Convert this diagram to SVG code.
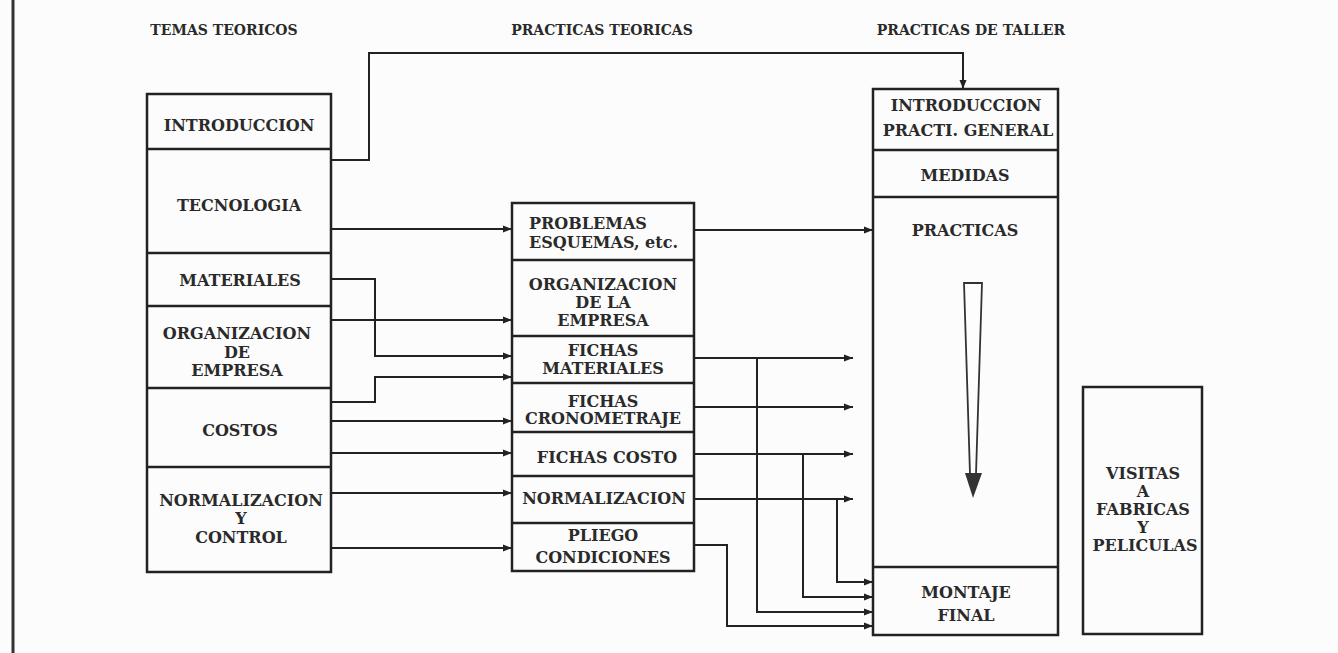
<svg xmlns="http://www.w3.org/2000/svg" width="1338" height="653" viewBox="0 0 1338 653">
<defs>
<marker id="ah" markerUnits="userSpaceOnUse" markerWidth="10" markerHeight="8" refX="9" refY="4" orient="auto">
<path d="M0,0.5 L9,4 L0,7.5 z" fill="#222"/>
</marker>
<style>
.bx{fill:none;stroke:#222;stroke-width:2.5}
.dv{stroke:#222;stroke-width:2.5}
.cn{fill:none;stroke:#222;stroke-width:2;marker-end:url(#ah)}
text{font-family:"DejaVu Serif","Liberation Serif",serif;font-weight:bold;fill:#2a2a2a;text-anchor:middle;font-size:16px}
.hd{font-size:14px}
.st{text-anchor:start}
</style>
</defs>
<rect width="1338" height="653" fill="#fcfcfc"/>
<line x1="13" y1="0" x2="13" y2="653" stroke="#333" stroke-width="3"/>

<g id="headers">
<text class="hd" x="224" y="35">TEMAS TEORICOS</text>
<text class="hd" x="602" y="35">PRACTICAS TEORICAS</text>
<text class="hd" x="971" y="35">PRACTICAS DE TALLER</text>
</g>

<g id="temas-teoricos">
<rect class="bx" x="147" y="94" width="184" height="478"/>
<line class="dv" x1="147" y1="149" x2="331" y2="149"/>
<line class="dv" x1="147" y1="253" x2="331" y2="253"/>
<line class="dv" x1="147" y1="306" x2="331" y2="306"/>
<line class="dv" x1="147" y1="388" x2="331" y2="388"/>
<line class="dv" x1="147" y1="467" x2="331" y2="467"/>
</g>
<g id="t-introduccion"><text x="239" y="131">INTRODUCCION</text></g>
<g id="t-tecnologia"><text x="239" y="211">TECNOLOGIA</text></g>
<g id="t-materiales"><text x="240" y="286">MATERIALES</text></g>
<g id="t-organizacion"><text x="237" y="339">ORGANIZACION</text><text x="237" y="358">DE</text><text x="237" y="376">EMPRESA</text></g>
<g id="t-costos"><text x="240" y="436">COSTOS</text></g>
<g id="t-normalizacion"><text x="241" y="506">NORMALIZACION</text><text x="241" y="524">Y</text><text x="241" y="543">CONTROL</text></g>

<g id="practicas-teoricas">
<rect class="bx" x="512" y="203" width="182" height="368"/>
<line class="dv" x1="512" y1="260" x2="694" y2="260"/>
<line class="dv" x1="512" y1="336" x2="694" y2="336"/>
<line class="dv" x1="512" y1="383" x2="694" y2="383"/>
<line class="dv" x1="512" y1="432" x2="694" y2="432"/>
<line class="dv" x1="512" y1="476" x2="694" y2="476"/>
<line class="dv" x1="512" y1="523" x2="694" y2="523"/>
</g>
<g id="p-problemas"><text class="st" x="529" y="229">PROBLEMAS</text><text class="st" x="529" y="248">ESQUEMAS, etc.</text></g>
<g id="p-organizacion"><text x="603" y="290">ORGANIZACION</text><text x="603" y="308">DE LA</text><text x="603" y="326">EMPRESA</text></g>
<g id="p-fichas-materiales"><text x="603" y="356">FICHAS</text><text x="603" y="374">MATERIALES</text></g>
<g id="p-fichas-crono"><text x="603" y="407">FICHAS</text><text x="603" y="424">CRONOMETRAJE</text></g>
<g id="p-fichas-costo"><text x="607" y="463">FICHAS COSTO</text></g>
<g id="p-normalizacion"><text x="604" y="504">NORMALIZACION</text></g>
<g id="p-pliego"><text x="603" y="541">PLIEGO</text><text x="603" y="563">CONDICIONES</text></g>

<g id="practicas-taller">
<rect class="bx" x="873" y="89" width="185" height="546"/>
<line class="dv" x1="873" y1="150" x2="1058" y2="150"/>
<line class="dv" x1="873" y1="197" x2="1058" y2="197"/>
<line class="dv" x1="873" y1="567" x2="1058" y2="567"/>
</g>
<g id="w-introduccion"><text x="966" y="111">INTRODUCCION</text><text x="968" y="136">PRACTI. GENERAL</text></g>
<g id="w-medidas"><text x="965" y="181">MEDIDAS</text></g>
<g id="w-practicas"><text x="965" y="236">PRACTICAS</text>
<path d="M964,283 L982,283 L976,474 L970,474 Z" fill="#fdfdfd" stroke="#333" stroke-width="1.8"/>
<path d="M965,473 L982,473 L973,498 Z" fill="#333"/>
</g>
<g id="w-montaje"><text x="966" y="598">MONTAJE</text><text x="966" y="621">FINAL</text></g>

<g id="visitas">
<rect class="bx" x="1083" y="387" width="119" height="247"/>
<text x="1143" y="479">VISITAS</text><text x="1143" y="497">A</text><text x="1143" y="515">FABRICAS</text><text x="1143" y="533">Y</text><text x="1145" y="551">PELICULAS</text>
</g>

<g id="connectors">
<path class="cn" d="M331,160 H369 V53 H963 V89"/>
<path class="cn" d="M331,229 H512"/>
<path class="cn" d="M694,230 H873"/>
<path class="cn" d="M331,279 H375 V356 H512"/>
<path class="cn" d="M331,320 H512"/>
<path class="cn" d="M331,402 H375 V377 H512"/>
<path class="cn" d="M331,421 H512"/>
<path class="cn" d="M331,453 H512"/>
<path class="cn" d="M331,493 H512"/>
<path class="cn" d="M331,548 H512"/>
<path class="cn" d="M694,358 H853"/>
<path class="cn" d="M757,358 V612 H873"/>
<path class="cn" d="M694,407 H853"/>
<path class="cn" d="M694,454 H853"/>
<path class="cn" d="M803,454 V597 H873"/>
<path class="cn" d="M694,499 H853"/>
<path class="cn" d="M837,499 V582 H873"/>
<path class="cn" d="M694,545 H727 V626 H873"/>
</g>
</svg>
